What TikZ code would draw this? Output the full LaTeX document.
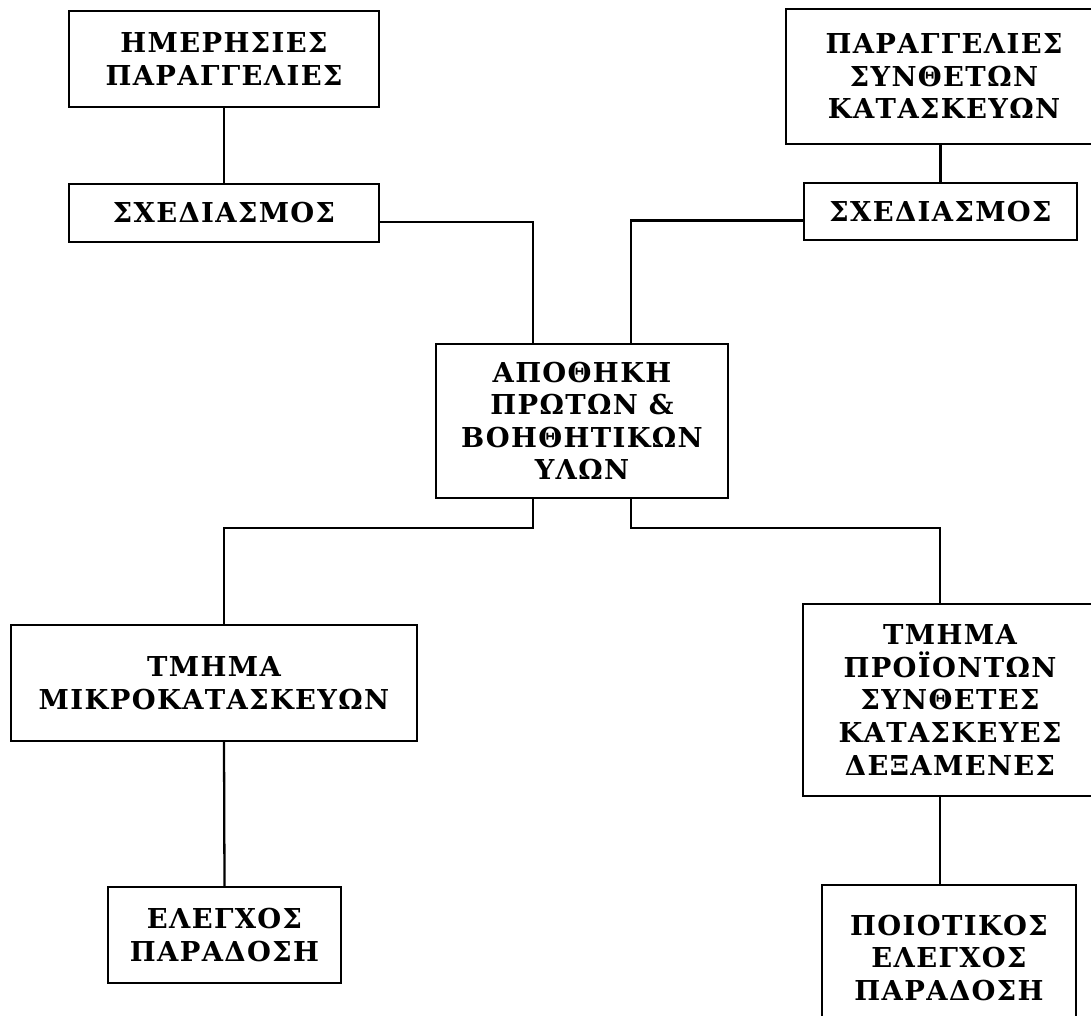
\documentclass[tikz,border=0pt]{standalone}
\usepackage{fontspec}
\setmainfont{DejaVu Serif}[LetterSpace=5]
\usetikzlibrary{calc}

\begin{document}
\begin{tikzpicture}[x=0.02cm, y=-0.02cm, line width=1.3pt,
    box/.style={draw, rectangle, align=center, inner sep=0pt,
      font=\bfseries\fontsize{15.6}{18.5}\selectfont}]
  \clip (0,0) rectangle (1091,1016);
  % top row
  \node [box, minimum width=6.2cm, minimum height=1.92cm] at (224,59) (orders1) {ΗΜΕΡΗΣΙΕΣ\\ΠΑΡΑΓΓΕΛΙΕΣ};
  \node [box, minimum width=6.2cm, minimum height=1.16cm] at (224,213) (plan1) {ΣΧΕΔΙΑΣΜΟΣ};
  \node [box, minimum width=6.32cm, minimum height=2.7cm] at (944,76.5) (orders2) {ΠΑΡΑΓΓΕΛΙΕΣ\\ΣΥΝΘΕΤΩΝ\\ΚΑΤΑΣΚΕΥΩΝ};
  \node [box, minimum width=5.46cm, minimum height=1.14cm] at (940.5,211.5) (plan2) {ΣΧΕΔΙΑΣΜΟΣ};
  % middle
  \node [box, minimum width=5.84cm, minimum height=3.08cm] at (582,421) (store) {ΑΠΟΘΗΚΗ\\ΠΡΩΤΩΝ \&\\ΒΟΗΘΗΤΙΚΩΝ\\ΥΛΩΝ};
  % bottom row
  \node [box, minimum width=8.12cm, minimum height=2.32cm] at (214,683) (dept1) {ΤΜΗΜΑ\\ΜΙΚΡΟΚΑΤΑΣΚΕΥΩΝ};
  \node [box, minimum width=4.66cm, minimum height=1.92cm] at (224.5,935) (check1) {ΕΛΕΓΧΟΣ\\ΠΑΡΑΔΟΣΗ};
  \node [box, minimum width=5.88cm, minimum height=3.84cm] at (950,700) (dept2) {ΤΜΗΜΑ\\ΠΡΟΪΟΝΤΩΝ\\ΣΥΝΘΕΤΕΣ\\ΚΑΤΑΣΚΕΥΕΣ\\ΔΕΞΑΜΕΝΕΣ};
  \node [box, minimum width=5.08cm, minimum height=2.92cm] at (949,958) (check2) {ΠΟΙΟΤΙΚΟΣ\\ΕΛΕΓΧΟΣ\\ΠΑΡΑΔΟΣΗ};

  \coordinate (busL) at (224,528);
  \coordinate (busR) at (940,528);

  \draw (orders1) -- (plan1);
  \draw (plan2.north |- orders2.south) -- (plan2.north);
  \draw ([yshift=-0.18cm]plan1.east) -| ([xshift=-0.98cm]store.north);
  \draw ([yshift=-0.18cm]plan2.west) -| ([xshift=0.98cm]store.north);
  \draw ([xshift=-0.98cm]store.south) |- (busL) -- (busL |- dept1.north);
  \draw ([xshift=0.98cm]store.south) |- (busR) -- (busR |- dept2.north);
  \draw (busL |- dept1.south) -- (check1.north);
  \draw (busR |- dept2.south) -- (busR |- check2.north);
\end{tikzpicture}
\end{document}
